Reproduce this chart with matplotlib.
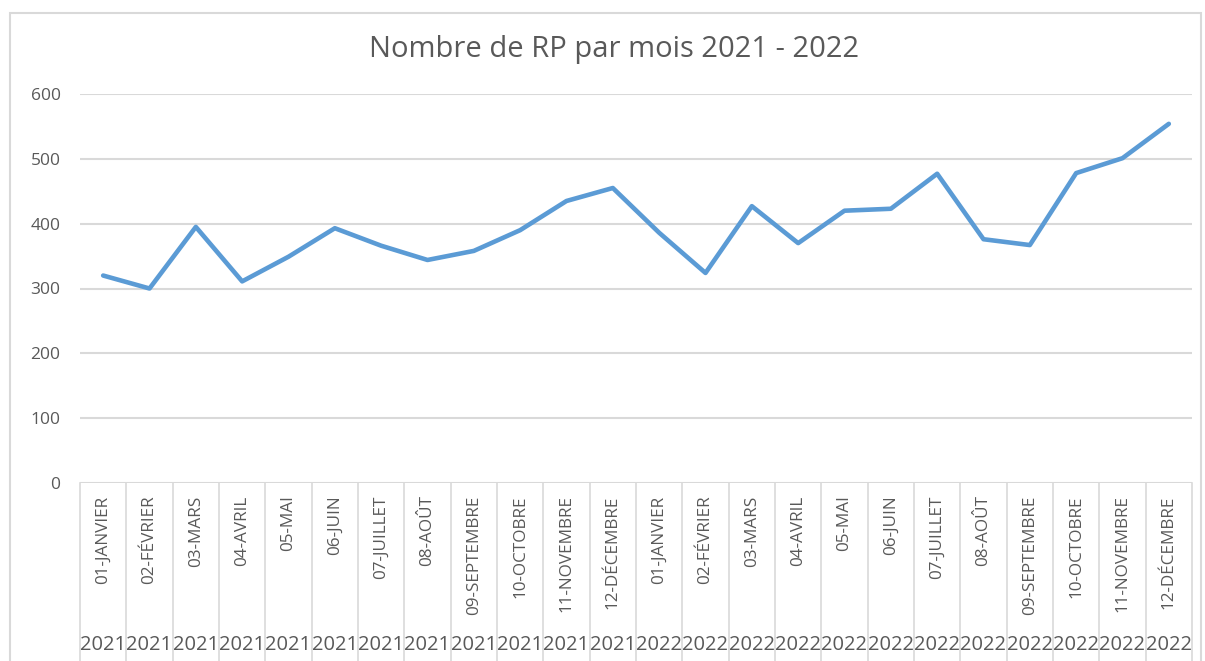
import matplotlib.pyplot as plt
from matplotlib.patches import Rectangle
import numpy as np

# données
mois = ['01-JANVIER', '02-FÉVRIER', '03-MARS', '04-AVRIL', '05-MAI', '06-JUIN',
        '07-JUILLET', '08-AOÛT', '09-SEPTEMBRE', '10-OCTOBRE', '11-NOVEMBRE', '12-DÉCEMBRE']
annees = ['2021', '2022']
rp_2021 = [320, 300, 395, 311, 349, 393, 366, 344, 358, 390, 435, 455]
rp_2022 = [386, 324, 427, 370, 420, 423, 477, 376, 367, 478, 501, 554]

categories = [(m, a) for a in annees for m in mois]
valeurs = rp_2021 + rp_2022

plt.rcParams['font.family'] = ['Open Sans', 'DejaVu Sans']
gris = '#595959'
grille = '#D9D9D9'

fig = plt.figure(figsize=(12.05, 6.61), dpi=100)
W, H = 1205, 661
ax = fig.add_axes([80 / W, 1 - 483 / H, (1192 - 80) / W, (483 - 94) / H])

# cadre du graphique
fig.patches.append(Rectangle((10 / W, -0.05), (1201 - 10) / W, 1.05 - 13 / H,
                             transform=fig.transFigure, fill=False,
                             edgecolor=grille, linewidth=1.5))

x = np.arange(len(categories))
ax.plot(x, valeurs, color='#5B9BD5', linewidth=3.3, solid_capstyle='round',
        solid_joinstyle='round', zorder=3)

ax.set_xlim(-0.5, len(categories) - 0.5)
ax.set_ylim(0, 600)
ax.set_yticks(np.arange(0, 601, 100))
ax.yaxis.grid(True, color=grille, linewidth=1.5)
ax.set_axisbelow(True)
for s in ax.spines.values():
    s.set_visible(False)
ax.tick_params(axis='y', length=0, pad=14, labelsize=12.5, labelcolor=gris)
ax.set_xticks([])

# axe des catégories à deux niveaux
trans = ax.get_xaxis_transform()
for i, (m, a) in enumerate(categories):
    ax.text(i, -0.032, m, rotation=90, ha='center', va='top', fontsize=12.3,
            color=gris, transform=trans)
    ax.text(i, -0.417, a, ha='center', va='center', fontsize=14.5,
            color=gris, transform=trans)
for b in np.arange(len(categories) + 1) - 0.5:
    ax.plot([b, b], [0, -0.5], color=grille, linewidth=1.2,
            transform=trans, clip_on=False)

fig.text(614 / W, 1 - 49 / H, 'Nombre de RP par mois 2021 - 2022',
         ha='center', va='center', fontsize=21, color=gris)

plt.savefig('out.png', dpi=100)
